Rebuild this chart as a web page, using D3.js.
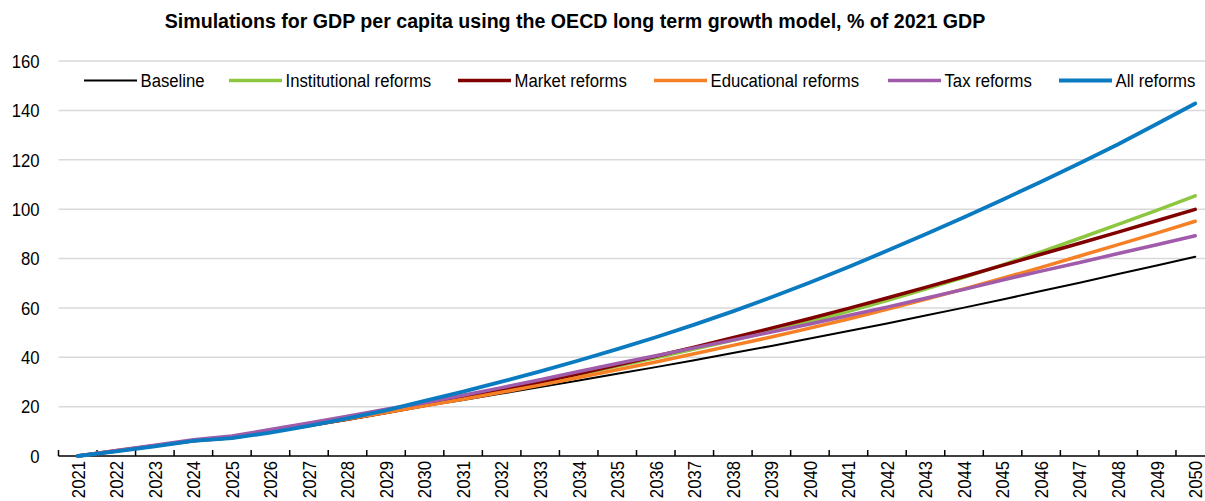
<!DOCTYPE html>
<html>
<head>
<meta charset="utf-8">
<script src="https://cdn.jsdelivr.net/npm/d3@7"></script>
<style>
  html, body { margin: 0; padding: 0; background: #fff; }
  svg text { font-family: 'Liberation Sans', Arial, sans-serif; fill: #000; }
</style>
</head>
<body>
<svg id="chart" width="1205" height="501"></svg>
<script>
// Years on the horizontal axis
const years = d3.range(2021, 2051);

// Tick labels on the vertical axis
const yTicks = [0, 20, 40, 60, 80, 100, 120, 140, 160];

// GDP per capita, % of 2021 GDP, one value per year 2021-2050
const baseline = [0, 2.1, 4.2, 6.2, 7.3, 9.6, 12.1, 14.7, 17.4, 20.2,
  22.7, 25.3, 27.9, 30.6, 33.3, 36.0, 38.8, 41.7, 44.6, 47.6,
  50.6, 53.7, 56.9, 60.1, 63.4, 66.8, 70.2, 73.7, 77.2, 80.7];
const institutional = [0, 2.1, 4.2, 6.3, 7.5, 9.9, 12.5, 15.1, 17.8, 20.6,
  23.5, 26.5, 29.7, 33.0, 36.4, 39.8, 43.3, 46.9, 50.6, 54.4,
  58.6, 63.0, 67.6, 72.4, 77.4, 82.7, 88.2, 93.8, 99.5, 105.4];
const market = [0, 2.0, 4.1, 6.2, 7.4, 9.8, 12.3, 14.9, 17.6, 20.4,
  23.4, 26.6, 29.9, 33.3, 36.8, 40.4, 44.1, 47.9, 51.8, 55.7,
  59.8, 64.0, 68.3, 72.7, 77.2, 81.7, 86.2, 90.7, 95.3, 99.9];
const educational = [0, 2.1, 4.2, 6.3, 7.5, 9.9, 12.4, 15.0, 17.6, 20.3,
  23.0, 25.8, 28.7, 31.8, 34.9, 38.1, 41.4, 44.8, 48.2, 51.8,
  55.5, 59.4, 63.5, 67.7, 72.0, 76.4, 81.0, 85.6, 90.3, 95.1];
const tax = [0, 2.2, 4.4, 6.6, 8.1, 10.7, 13.4, 16.1, 18.9, 21.6,
  24.6, 27.7, 30.9, 34.2, 37.5, 40.6, 43.8, 47.0, 50.2, 53.5,
  56.9, 60.3, 63.9, 67.5, 71.3, 74.9, 78.4, 82.0, 85.6, 89.2];
const allReforms = [0, 1.9, 3.9, 6.1, 7.2, 9.5, 12.2, 15.2, 18.5, 22.3,
  26.1, 30.1, 34.3, 38.7, 43.3, 48.1, 53.2, 58.6, 64.3, 70.3,
  76.6, 83.1, 89.8, 96.7, 103.8, 111.1, 118.6, 126.3, 134.5, 142.8];

const seriesNames = ["Baseline", "Institutional reforms", "Market reforms",
  "Educational reforms", "Tax reforms", "All reforms"];
const seriesValues = [baseline, institutional, market, educational, tax, allReforms];
const seriesColors = ["#000000", "#8dc63f", "#800000", "#f58025", "#a05bab", "#0b7bc1"];
const seriesWidths = [2, 3.5, 3.5, 3.5, 3.5, 3.8];

// Horizontal compression that gives the narrow lettering
const narrow = 0.88;

const svg = d3.select("#chart");

const x = d3.scaleBand().domain(years).range([58.5, 1214.5]).paddingInner(0).paddingOuter(0);
const y = d3.scaleLinear().domain([0, 160]).range([456, 61]);
const cx = d => x(d) + x.bandwidth() / 2;

// Horizontal gridlines
svg.append("g")
  .selectAll("line")
  .data(yTicks.filter(t => t > 0))
  .join("line")
  .attr("x1", 58.5).attr("x2", 1205)
  .attr("y1", d => y(d)).attr("y2", d => y(d))
  .attr("stroke", "#d9d9d9").attr("stroke-width", 1.5);

// Vertical axis labels
svg.append("g")
  .selectAll("text")
  .data(yTicks)
  .join("text")
  .attr("transform", d => `translate(39.5,${y(d)}) scale(${narrow},1)`)
  .attr("dy", "0.36em")
  .attr("text-anchor", "end")
  .attr("font-size", 19)
  .text(d => d3.format("d")(d));

// Horizontal axis line and tick marks at category boundaries
const xAxisG = svg.append("g");
xAxisG.append("line")
  .attr("x1", 58.5).attr("x2", 1205)
  .attr("y1", y(0)).attr("y2", y(0))
  .attr("stroke", "#000").attr("stroke-width", 1.5);
xAxisG.selectAll("line.tick")
  .data(years)
  .join("line")
  .attr("class", "tick")
  .attr("x1", d => x(d)).attr("x2", d => x(d))
  .attr("y1", y(0)).attr("y2", y(0) - 6)
  .attr("stroke", "#000").attr("stroke-width", 1.5);

// Rotated year labels
xAxisG.selectAll("text")
  .data(years)
  .join("text")
  .attr("transform", d => `translate(${cx(d) + 6.8},${y(0) + 5}) rotate(-90) scale(${narrow},1)`)
  .attr("text-anchor", "end")
  .attr("font-size", 19)
  .text(d => d);

// Series lines
const line = d3.line()
  .x((d, i) => cx(years[i]))
  .y(d => y(d));

svg.append("g")
  .selectAll("path")
  .data(seriesValues)
  .join("path")
  .attr("d", d => line(d))
  .attr("fill", "none")
  .attr("stroke", (d, i) => seriesColors[i])
  .attr("stroke-width", (d, i) => seriesWidths[i])
  .attr("stroke-linejoin", "round")
  .attr("stroke-linecap", "round");

// Legend
const legendX = [84, 229, 458, 654, 888, 1059];
const legend = svg.append("g")
  .selectAll("g")
  .data(seriesNames)
  .join("g")
  .attr("transform", (d, i) => `translate(${legendX[i]},80.5)`);
legend.append("line")
  .attr("x1", 0).attr("x2", 53)
  .attr("y1", 0).attr("y2", 0)
  .attr("stroke", (d, i) => seriesColors[i])
  .attr("stroke-width", (d, i) => seriesWidths[i]);
legend.append("text")
  .attr("transform", `translate(56.5,6.8) scale(${narrow},1)`)
  .attr("font-size", 19)
  .text(d => d);

// Title
svg.append("text")
  .attr("x", 575).attr("y", 28)
  .attr("text-anchor", "middle")
  .attr("font-size", 19.6)
  .attr("font-weight", "bold")
  .text("Simulations for GDP per capita using the OECD long term growth model, % of 2021 GDP");
</script>
</body>
</html>
